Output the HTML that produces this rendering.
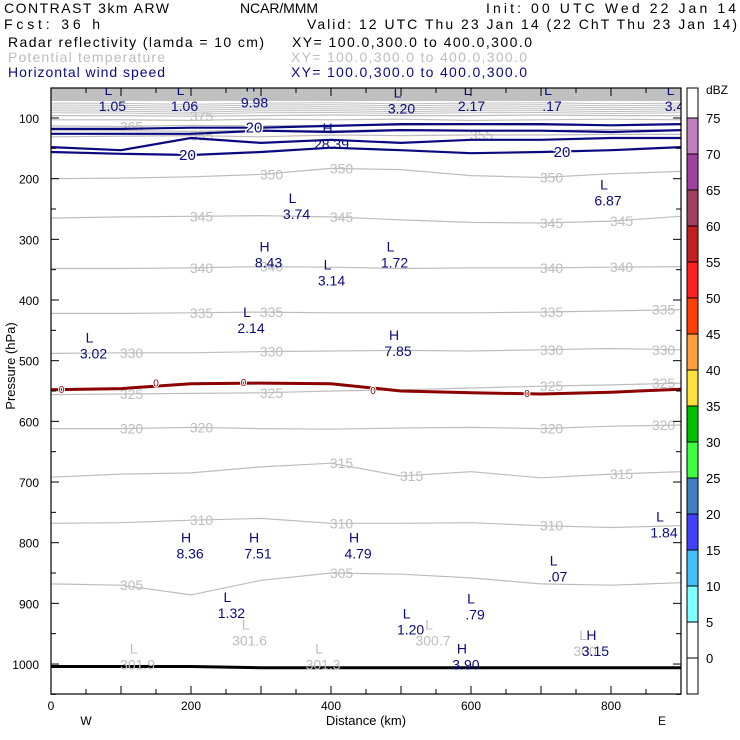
<!DOCTYPE html>
<html><head><meta charset="utf-8">
<style>
html,body{margin:0;padding:0;background:#fff;}
svg{display:block;font-family:"Liberation Sans","DejaVu Sans",sans-serif;}
</style></head>
<body>
<svg id="chart" width="740" height="740" viewBox="0 0 740 740" xmlns="http://www.w3.org/2000/svg">
<g font-size="14">
<text x="4" y="13" textLength="165" fill="#000">CONTRAST  3km ARW</text>
<text x="240" y="13" textLength="78" fill="#000">NCAR/MMM</text>
<text x="486" y="13" textLength="250" fill="#000">Init: 00 UTC Wed 22 Jan 14</text>
<text x="4" y="29" textLength="96" fill="#000">Fcst:   36 h</text>
<text x="307" y="29" textLength="430" fill="#000">Valid: 12 UTC Thu 23 Jan 14 (22 ChT Thu 23 Jan 14)</text>
<text x="8" y="47" textLength="256" fill="#000">Radar reflectivity (lamda = 10 cm)</text>
<text x="292" y="47" textLength="240" fill="#000">XY= 100.0,300.0 to 400.0,300.0</text>
<text x="8" y="62" textLength="157" fill="#bdbdbd">Potential temperature</text>
<text x="291" y="62" textLength="236" fill="#bdbdbd">XY= 100.0,300.0 to 400.0,300.0</text>
<text x="8" y="77" textLength="157" fill="#0a0a8a">Horizontal wind speed</text>
<text x="291" y="77" textLength="236" fill="#0a0a8a">XY= 100.0,300.0 to 400.0,300.0</text>
</g>
<g id="plot"></g>
<g id="cbar"></g>
</svg>
<script>
// ---- data ----
const distKm = [0,100,200,300,400,500,600,700,800,900];
const theta305 = [868,870,886,862,850,852,858,868,870,866];
const theta310 = [768,767,763,760,768,768,767,772,775,772];
const theta315 = [692,687,685,675,669,690,683,693,687,683];
const theta320 = [612,612,610,612,613,611,610,612,608,606];
const theta325 = [556,555,554,553,550,548,545,542,540,537];
const theta330 = [488,487,487,485,484,483,484,482,480,482];
const theta335 = [422,422,421,420,421,421,421,420,418,416];
const theta340 = [348,348,347,345,346,348,347,347,346,345];
const theta345 = [265,263,262,261,263,268,272,273,270,262];
const theta350 = [200,199,197,193,183,185,195,198,192,188];
const theta355 = [131,130,129,131,128,129,128,128,127,127];
const theta360 = [121,121,122,120,121,119,120,121,119,120];
const theta365 = [113,114,112,113,112,112,111,112,112,111];
const theta370 = [103,103,104,102,103,102,104,103,102,103];
const theta375 = [96,96,97,96,95,96,96,95,96,96];
const thetaLevels = [305,310,315,320,325,330,335,340,345,350,355,360,365,370,375];
const wind20a = [118,118,116,116,113,110,110,110,112,110];
const wind20b = [126,126,126,121,123,120,121,121,123,120];
const wind25 = [148,153,133,141,136,141,136,136,133,133];
const wind20c = [156,159,161,156,149,153,158,156,153,148];
const refl0 = [548,546,538,537,538,550,553,555,552,547];
const groundP = [1004,1004,1004,1006,1006,1006,1006,1006,1006,1006];
const xTicks = [0,200,400,600,800];
const yTicks = [100,200,300,400,500,600,700,800,900,1000];
const cbarLevels = [75,70,65,60,55,50,45,40,35,30,25,20,15,10,5,0];
const cbarColors = ["#c080c0","#a040a0","#a04060","#c02020","#ff2020","#ff4000","#ffa040","#ffe040","#00c000","#40ff40","#4080c0","#4040ff","#40c0ff","#80ffff","#ffffff","#ffffff"];
const windLabels = [["L","1.05",82,62],["L","1.06",185,62],["H","9.98",285,56],["L","3.20",495,66],["L","2.17",595,62],["L",".17",710,62],["L","3.4",885,62],
 ["H","28.39",395,125],["L","3.74",345,240],["L","6.87",790,218],["H","8.43",305,320],["L","3.14",395,350],["L","1.72",485,320],["L","3.02",55,470],
 ["L","2.14",280,428],["H","7.85",490,466],["H","8.36",193,800],["H","7.51",290,800],["H","4.79",433,800],["L",".07",718,838],["L","1.84",870,765],
 ["L","1.32",252,898],["L","1.20",508,925],["L",".79",600,900],["H","3.90",587,983],["H","3.15",772,960]];
const thetaExtrema = [["L","301.9",118,983],["L","301.6",278,943],["L","301.3",383,983],["L","300.7",540,943],["L","300.",760,960]];

// ---- scales ----
const X0=51, X1=681, Y0=88, Y1=694;
function xs(km){ return X0 + km*(X1-X0)/900; }
function ys(p){ return 118 + (p-100)*0.6067; }
const NS="http://www.w3.org/2000/svg";
const plot=document.getElementById('plot');
function mk(tag,attrs,parent){ const e=document.createElementNS(NS,tag); for(const k in attrs) e.setAttribute(k,attrs[k]); (parent||plot).appendChild(e); return e; }
function pts(arr){ return arr.map((p,i)=>xs(distKm[i]).toFixed(1)+","+ys(p).toFixed(1)).join(" "); }

const defs=mk('defs',{});
const cp=mk('clipPath',{id:'pc'},defs);
mk('rect',{x:X0,y:Y0,width:X1-X0,height:Y1-Y0},cp);
const g=mk('g',{'clip-path':'url(#pc)'});

const band=mk('rect',{x:X0,y:Y0,width:X1-X0,height:ys(72)-Y0,fill:'#c0c0c0'},g);


for(let i=0;i<6;i++){
  const l=mk('polyline',{points:pts(theta375.map((v,j)=>v-20+i*3.2+((j%3)-1)*0.6)),fill:'none',stroke:'#c0c0c0','stroke-width':1},g);
  
  
}

const thetaSeries=[theta305,theta310,theta315,theta320,theta325,theta330,theta335,theta340,theta345,theta350,theta355,theta360,theta365,theta370,theta375];
thetaSeries.forEach((arr,i)=>{
  const l=mk('polyline',{points:pts(arr),fill:'none',stroke:'#bdbdbd','stroke-width':1.2},g);
  
  
});
const tLabIdx=[[0,1],[0,4],[1,2],[1,4],[1,7],[2,4],[2,5],[2,8],[3,1],[3,2],[3,7],[3,9],[4,1],[4,3],[4,7],[4,9],[5,1],[5,3],[5,7],[5,9],[6,2],[6,3],[6,7],[6,9],[7,2],[7,3],[7,7],[7,8],[8,2],[8,4],[8,7],[8,8],[9,3],[9,4],[9,7],[10,2],[10,6],[12,1],[14,2]];
tLabIdx.forEach(([li,pi])=>{
  const km=distKm[pi]+ (pi===9?-25:15);
  const t=mk('text',{x:xs(km),y:ys(thetaSeries[li][pi])+5,'font-size':14,fill:'#bdbdbd','text-anchor':'middle'},g);
  t.textContent=thetaLevels[li];
  
  
});

[wind20a,wind20b,wind25,wind20c].forEach((arr,i)=>{
  const l=mk('polyline',{points:pts(arr),fill:'none',stroke:'#0a0a80','stroke-width':2.2},g);
  
  
});
[["20",290,wind20a,3],["25",-15,wind25,0],["20",195,wind20c,2],["20",730,wind20c,7]].forEach(([s,km,arr,i])=>{
  const t=mk('text',{x:xs(km),y:ys(arr[i])+5,'font-size':15,fill:'#0a0a80','text-anchor':'middle',stroke:'#fff','stroke-width':3,'paint-order':'stroke'},g);
  t.textContent=s;
  
  
});

const rl=mk('polyline',{points:pts(refl0),fill:'none',stroke:'#8b0000','stroke-width':3},g);


[15,150,275,460,680].forEach(km=>{
  const i=Math.min(9,Math.round(km/100));
  const t=mk('text',{x:xs(km),y:ys(refl0[i])+3,'font-size':10,fill:'#8b0000','text-anchor':'middle',stroke:'#fff','stroke-width':2,'paint-order':'stroke'},g);
  t.textContent='0';
  
  
});

const gl=mk('polyline',{points:pts(groundP),fill:'none',stroke:'#000','stroke-width':3},g);



function extrema(list,color,name){
  list.forEach(([hl,v,km,p])=>{
    const a=mk('text',{x:xs(km),y:ys(p),'font-size':14,fill:color,'text-anchor':'middle'},g);
    a.textContent=hl;
    
    
    const b=mk('text',{x:xs(km)+4,y:ys(p)+16,'font-size':14,fill:color,'text-anchor':'middle'},g);
    b.textContent=v;
    
    
  });
}
extrema(thetaExtrema,'#bdbdbd','theta-extremum');
extrema(windLabels,'#0a0a80','wind-extremum');

const fr=mk('rect',{x:X0,y:Y0,width:X1-X0,height:Y1-Y0,fill:'none',stroke:'#000','stroke-width':1.2});


for(let km=0;km<=900;km+=50){
  const L=(km%100===0)?8:5;
  mk('line',{x1:xs(km),x2:xs(km),y1:Y1,y2:Y1-L,stroke:'#000'});
  mk('line',{x1:xs(km),x2:xs(km),y1:Y0,y2:Y0+L,stroke:'#000'});
}
for(let p=100;p<=1050;p+=50){
  const L=(p%100===0)?8:5;
  mk('line',{x1:X0,x2:X0+L,y1:ys(p),y2:ys(p),stroke:'#000'});
  mk('line',{x1:X1,x2:X1-L,y1:ys(p),y2:ys(p),stroke:'#000'});
}
xTicks.forEach(v=>{
  const t=mk('text',{x:xs(v),y:710,'font-size':12,'text-anchor':'middle',fill:'#000'});
  t.textContent=v;
  
  
});
yTicks.forEach(v=>{
  const t=mk('text',{x:39,y:ys(v)+5,'font-size':12,'text-anchor':'end',fill:'#000'});
  t.textContent=v;
  
  
});
let t;
t=mk('text',{x:366,y:725,'font-size':13,'text-anchor':'middle',fill:'#000'}); t.textContent='Distance (km)';


t=mk('text',{x:0,y:0,'font-size':13,'text-anchor':'middle',fill:'#000',transform:'translate(15,366) rotate(-90)'}); t.textContent='Pressure (hPa)';


t=mk('text',{x:86,y:725,'font-size':12,'text-anchor':'middle',fill:'#000'}); t.textContent='W';


t=mk('text',{x:662,y:725,'font-size':12,'text-anchor':'middle',fill:'#000'}); t.textContent='E';



const cb=document.getElementById('cbar');
const CBX=687, CBW=11, CBtop=88, seg=36, y75=118;
const topWhite=mk('rect',{x:CBX,y:CBtop,width:CBW,height:y75-CBtop,fill:'#fff',stroke:'#000'},cb);


cbarColors.forEach((c,i)=>{
  const r=mk('rect',{x:CBX,y:y75+i*seg,width:CBW,height:seg,fill:c,stroke:'#000'},cb);
  
  
});
cbarLevels.forEach((v,i)=>{
  const tt=mk('text',{x:706,y:y75+i*seg+5,'font-size':13,fill:'#000'},cb);
  tt.textContent=v;
  
  
});
t=mk('text',{x:706,y:94,'font-size':12,fill:'#000'},cb); t.textContent='dBZ';


</script>
</body></html>
